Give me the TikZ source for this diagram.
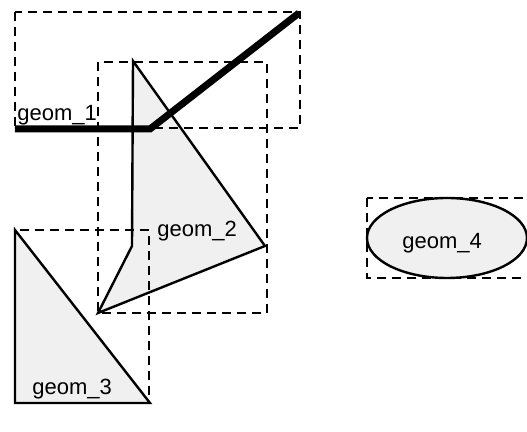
\documentclass[tikz,border=0pt]{standalone}
\usepackage{fontspec}
\setmainfont{Liberation Sans}
\begin{document}
\begin{tikzpicture}[x=0.5pt,y=-0.5pt,
    geom/.style={draw=black,line width=1.2pt,fill=black!6,line join=miter},
    bbox/.style={draw=black,line width=1.4pt,dash pattern=on 4.5pt off 3pt},
    glabel/.style={font=\fontsize{11}{13}\selectfont,inner sep=0pt,anchor=base west}]
  \useasboundingbox (0,0) rectangle (527,432);

  % geom_1 : the line
  \coordinate (L1) at (15,129);
  \coordinate (L2) at (150,129);
  \coordinate (L3) at (299,13);

  % geom_2 : the polygon
  \coordinate (P1) at (133,61);
  \coordinate (P2) at (265,246);
  \coordinate (P3) at (98,313);
  \coordinate (P4) at (132,246);

  % geom_3 : the triangle
  \coordinate (T1) at (15,230);
  \coordinate (T2) at (15,403);
  \coordinate (T3) at (150,403);

  % geom_4 : the ellipse
  \coordinate (E) at (447,238);

  % the shapes
  \draw [geom] (P1) -- (P2) -- (P3) -- (P4) -- cycle;
  \draw [geom] (T1) -- (T2) -- (T3) -- cycle;
  \draw [geom] (E) ellipse [x radius=80, y radius=40];
  \draw [line width=3.5pt,line join=miter] (L1) -- (L2) -- (L3);

  % the bounding boxes
  \draw [bbox] (15,12) rectangle (300,128);
  \draw [bbox] (98,62) rectangle (267,313);
  \draw [bbox] (15,230) rectangle (149,403);
  \draw [bbox] (367,198) rectangle (530,278);

  % the labels
  \node [glabel] (n1) at (17,121) {geom\_1};
  \node [glabel] (n2) at (157,237) {geom\_2};
  \node [glabel] (n3) at (32,395) {geom\_3};
  \node [glabel] (n4) at (402,249) {geom\_4};
\end{tikzpicture}
\end{document}
